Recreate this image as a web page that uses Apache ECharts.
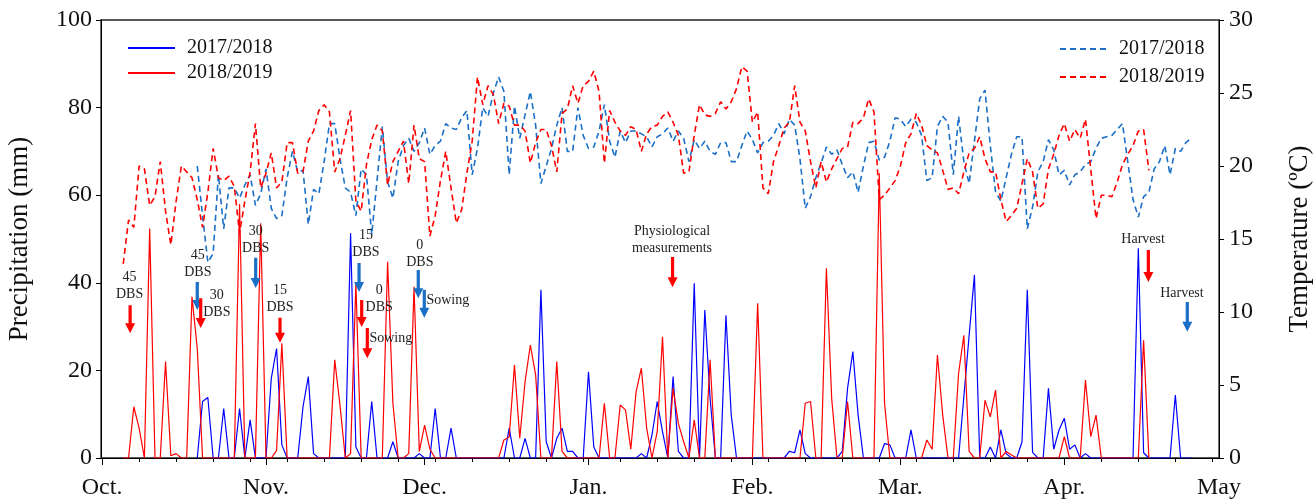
<!DOCTYPE html>
<html>
<head>
<meta charset="utf-8">
<script src="https://cdn.jsdelivr.net/npm/echarts@6/dist/echarts.min.js"></script>
<style>
html,body{margin:0;padding:0;background:#fff;}
#chart{width:1315px;height:500px;}
</style>
</head>
<body>
<div id="chart"></div>
<script>
// ---- axis categories (days counted from 1 October) ----
const monthStarts = [0, 31, 61, 92, 123, 151, 182, 212];
const monthLabels = ['Oct.', 'Nov.', 'Dec.', 'Jan.', 'Feb.', 'Mar.', 'Apr.', 'May'];
const seasonNames = ['2017/2018', '2018/2019'];

// ---- daily precipitation (mm) ----
const precip1718Start = 18;
const precip1718 = [
  0, 12.9, 13.8, 0, 0, 11.3, 0, 0, 11.3, 0,
  8.7, 0, 0, 0, 18.2, 25, 3, 0, 0, 0,
  11.7, 18.6, 1, 0, 0, 0, 0, 0, 0, 51.3,
  2.5, 0, 0, 12.9, 0, 0, 0, 3.7, 0, 0,
  0, 0, 1, 0, 0, 11.3, 0, 0, 6.8, 0,
  0, 0, 0, 0, 0, 0, 0, 0, 0, 6.8,
  0, 0, 4.5, 0, 0, 38.4, 3.7, 0, 4.5, 6.8,
  1.5, 1.5, 0, 0, 19.7, 2.5, 0, 0, 0, 0,
  0, 0, 0, 0, 1, 0, 5.2, 12.9, 6, 0,
  18.6, 1.5, 0, 0, 39.9, 0, 33.8, 13.6, 0, 0,
  32.6, 9.8, 0, 0, 0, 0, 0, 0, 0, 0,
  0, 0, 1.5, 1.2, 6.4, 1, 0, 0, 0, 0,
  0, 0, 1.5, 15.9, 24.3, 9.8, 0, 0, 0, 0,
  3.3, 3, 0, 0, 0, 6.4, 0, 0, 0, 0,
  0, 0, 0, 0, 0, 14, 28, 41.8, 0, 0,
  2.5, 0, 6.4, 1, 0, 0, 3.7, 38.4, 1.3, 0,
  0, 15.9, 2, 6.4, 9.1, 2, 3, 0, 1, 0,
  0, 0, 0, 0, 0, 0, 0, 0, 47.9, 1.2,
  0, 0, 0, 0, 0, 14.4, 0, 0, 0
];
const precip1819Start = 4;
const precip1819 = [
  0, 0, 11.7, 6.8, 0, 52.4, 0, 0, 22, 0.5,
  1, 0, 0, 36.8, 25, 0, 0, 0, 0, 0,
  0, 0, 58, 0, 0, 0, 53.6, 0, 0, 1.7,
  26.2, 0, 0, 0, 0, 0, 0, 0, 0, 0,
  22.4, 12, 0, 1, 39.9, 0, 0, 0, 0, 0,
  44.8, 12.5, 0, 0, 1, 39.1, 1.5, 7.5, 2, 0,
  0, 0, 0, 0, 0, 0, 0, 0, 0, 0,
  0, 0, 4.1, 4.8, 21.2, 4.5, 17.4, 25.8, 19, 0,
  0, 0, 22, 1.5, 0, 0, 0, 0, 0, 0,
  0, 12.5, 0, 0, 12.1, 11, 2, 15.1, 20.5, 6.8,
  0, 6, 27.7, 0, 15.9, 7.9, 3.7, 0, 8.7, 0,
  0, 22.4, 0, 0, 0, 0, 0, 0, 0, 0,
  35.3, 0, 0, 0, 0, 0, 0, 0, 0, 12.5,
  12.9, 0, 0, 43.3, 13.6, 0, 0, 12.9, 0, 0,
  0, 0, 0, 65, 12.5, 0, 0, 0, 0, 0,
  0, 0, 4.1, 2, 23.5, 9.8, 0, 0, 19.3, 28,
  1.5, 0, 0, 13.2, 9.4, 15.5, 0, 1.5, 0.7, 0,
  0, 0, 0, 0, 0, 0, 0, 0, 4.9, 0,
  0, 0, 17.8, 4.9, 9.8, 0, 0, 0, 0, 0,
  0, 0, 0, 26.9, 0
];

// ---- daily mean temperature (ºC) ----
const temp1718Start = 18;
const temp1718 = [
  20.0, 16.6, 13.4, 14.0, 19.4, 15.7, 18.5, 18.5, 17.8, 18.7,
  19.4, 17.3, 18.1, 19.8, 17.1, 16.4, 16.6, 19.2, 21.0, 19.6,
  19.7, 16.0, 18.4, 18.1, 20.3, 22.9, 22.9, 20.5, 18.5, 18.2,
  16.6, 19.8, 19.4, 15.3, 19.0, 22.7, 18.9, 17.8, 20.3, 21.4,
  21.9, 21.0, 21.6, 22.6, 20.8, 21.4, 21.7, 22.9, 22.6, 22.5,
  23.3, 23.8, 19.4, 21.2, 24.0, 23.4, 25.0, 26.1, 25.1, 19.4,
  24.1, 21.9, 23.5, 25.1, 22.8, 18.8, 20.0, 21.2, 22.8, 24.0,
  21.0, 21.0, 24.0, 22.1, 21.2, 21.3, 22.4, 24.2, 21.7, 20.6,
  22.4, 21.6, 22.4, 22.4, 22.2, 22.0, 21.3, 22.0, 22.2, 22.6,
  21.7, 22.4, 21.9, 20.3, 21.8, 21.2, 21.7, 21.0, 20.8, 21.6,
  21.6, 20.3, 20.3, 21.4, 22.4, 21.8, 20.9, 21.6, 21.7, 22.1,
  22.9, 22.2, 23.2, 22.8, 20.5, 17.1, 17.9, 19.2, 20.2, 21.3,
  20.8, 21.1, 20.1, 19.2, 19.6, 18.2, 20.0, 21.6, 21.7, 20.4,
  20.6, 21.7, 23.3, 23.2, 22.7, 23.2, 23.0, 22.1, 19.0, 19.2,
  22.7, 23.4, 23.0, 19.4, 23.4, 20.3, 18.8, 21.7, 24.6, 25.2,
  21.4, 18.2, 17.6, 19.2, 20.8, 22.0, 22.0, 15.7, 17.2, 19.6,
  20.3, 21.8, 21.1, 19.4, 19.7, 18.7, 19.4, 19.6, 20.1, 20.3,
  21.2, 21.9, 22.0, 22.1, 22.5, 22.9, 20.3, 17.7, 16.5, 17.9,
  18.2, 19.8, 20.3, 21.4, 19.4, 21.2, 21.0, 21.6, 21.9
];
const temp1819Start = 4;
const temp1819 = [
  13.3, 16.3, 15.8, 20.0, 19.8, 17.3, 17.9, 20.3, 16.9, 14.6,
  17.6, 20.0, 19.6, 19.2, 17.7, 15.8, 18.2, 21.2, 19.2, 19.0,
  19.3, 18.6, 15.4, 17.6, 19.6, 22.9, 18.5, 19.5, 20.9, 18.5,
  18.9, 21.6, 21.6, 19.5, 19.6, 21.7, 22.4, 23.8, 24.2, 23.7,
  19.6, 20.5, 22.1, 23.8, 17.6, 16.9, 20.1, 21.8, 22.8, 22.4,
  18.7, 20.3, 21.0, 21.7, 18.8, 22.8, 20.5, 20.3, 15.2, 16.6,
  19.0, 21.0, 18.5, 16.1, 17.0, 19.5, 21.7, 26.1, 24.2, 25.5,
  24.9, 22.9, 24.3, 24.1, 22.8, 22.8, 22.4, 20.2, 21.6, 22.5,
  22.5, 21.4, 19.6, 23.6, 23.9, 25.5, 24.3, 25.5, 25.8, 26.5,
  25.1, 20.2, 23.8, 23.0, 22.4, 22.1, 22.7, 22.5, 21.0, 22.2,
  22.7, 22.8, 23.4, 23.7, 23.0, 22.1, 19.5, 19.6, 22.1, 24.2,
  23.5, 23.4, 23.6, 24.4, 23.9, 24.4, 25.3, 26.8, 26.5, 23.0,
  23.7, 18.5, 18.1, 20.3, 21.4, 22.6, 23.0, 25.5, 23.0, 22.4,
  20.3, 18.5, 20.3, 18.9, 19.8, 20.5, 21.2, 21.3, 23.0, 22.9,
  23.3, 24.6, 23.7, 17.7, 18.0, 18.5, 19.0, 20.0, 21.6, 22.2,
  23.6, 22.8, 21.4, 21.1, 20.9, 19.7, 18.4, 18.5, 18.1, 19.6,
  20.9, 21.2, 22.0, 20.5, 19.6, 19.6, 17.7, 16.2, 16.6, 17.1,
  18.8, 20.5, 19.6, 17.1, 17.4, 19.8, 20.8, 22.1, 22.9, 21.7,
  22.5, 21.9, 23.2, 19.8, 16.4, 18.0, 18.0, 17.9, 18.9, 20.1,
  20.8, 21.4, 22.4, 22.5, 19.7
];

// ---- annotations: text (day, mm) and arrows (day, mm from -> mm to) ----
const annotationTexts = [
  ['45\nDBS', 5.2, 39.2], ['45\nDBS', 18.1, 44.4], ['30\nDBS', 21.7, 35.3],
  ['30\nDBS', 29.05, 49.7], ['15\nDBS', 33.65, 36.4], ['15\nDBS', 49.9, 49.0],
  ['0\nDBS', 52.4, 36.3], ['Sowing', 54.6, 27.4], ['0\nDBS', 60.1, 46.7],
  ['Sowing', 65.4, 36.1], ['Physiological\nmeasurements', 107.8, 49.8],
  ['Harvest', 196.9, 50.0], ['Harvest', 204.25, 37.7]
];
const annotationArrows = [
  ['r', 5.3, 34.9, 28.5], ['b', 18.0, 40.2, 33.8], ['r', 18.65, 36.5, 29.7],
  ['b', 29.05, 45.7, 38.8], ['r', 33.65, 32.0, 26.3], ['b', 48.6, 44.5, 37.9],
  ['r', 49.1, 36.1, 29.9], ['r', 50.16, 29.7, 22.8], ['b', 59.8, 42.9, 36.5],
  ['b', 60.94, 38.4, 32.0], ['r', 107.9, 45.9, 39.0], ['r', 197.9, 47.5, 40.2],
  ['b', 205.26, 35.6, 28.8]
];

const FONT = '"Liberation Serif", "Times New Roman", serif';
const BLUE = '#0000ff', RED = '#ff0000', DBLUE = '#1a6fc6';
const X_MIN = -0.21, X_MAX = 211.26;   // visible range (days); the frame closes just before 1 May
const toPairs = (start, arr) => arr.map((v, i) => [start + i, v]);
const labelValues = monthStarts.map(v => Math.min(v, X_MAX));
const weekTicks = [];
for (let d = 7; d < X_MAX; d += 7) weekTicks.push(d);

const chart = echarts.init(document.getElementById('chart'), null, {renderer: 'canvas'});
const legendBase = {
  orient: 'vertical', itemWidth: 47, itemHeight: 20, padding: 0,
  itemStyle: {opacity: 0},
  formatter: n => n.slice(1),
  textStyle: {fontFamily: FONT, fontSize: 20, color: '#111', padding: [0, 0, 0, 7]}
};
const option = {
  backgroundColor: '#fff',
  animation: false,
  textStyle: {fontFamily: FONT},
  grid: {
    left: 101, right: 96, top: 20, bottom: 42, containLabel: false, outerBoundsMode: 'none',
    show: true, borderColor: '#222', borderWidth: 1.3, backgroundColor: 'transparent'
  },
  legend: [
    Object.assign({}, legendBase, {left: 127, top: 38, itemGap: 5, data: ['P' + seasonNames[0], 'P' + seasonNames[1]]}),
    Object.assign({}, legendBase, {left: 1059, top: 39, itemGap: 8, data: ['T' + seasonNames[0], 'T' + seasonNames[1]]})
  ],
  xAxis: [
    {
      type: 'value', min: X_MIN, max: X_MAX, position: 'bottom',
      axisLine: {onZero: false, lineStyle: {color: '#000', width: 1}},
      axisTick: {customValues: monthStarts.filter(v => v <= X_MAX), length: 7, inside: false, lineStyle: {color: '#000'}},
      axisLabel: {
        customValues: labelValues, fontSize: 24, color: '#111', fontFamily: FONT, margin: 18,
        formatter: v => {
          let best = 0;
          labelValues.forEach((lv, i) => { if (Math.abs(lv - v) < Math.abs(labelValues[best] - v)) best = i; });
          return monthLabels[best];
        }
      },
      splitLine: {show: false}
    },
    {
      type: 'value', min: X_MIN, max: X_MAX, position: 'bottom', gridIndex: 0,
      axisLine: {show: false, onZero: false},
      axisTick: {customValues: weekTicks, length: 4, inside: false, lineStyle: {color: '#000'}},
      axisLabel: {show: false},
      splitLine: {show: false}
    }
  ],
  yAxis: [
    {
      type: 'value', min: 0, max: 100, interval: 20, position: 'left',
      name: 'Precipitation (mm)', nameLocation: 'middle', nameGap: 68, nameRotate: 90,
      nameTextStyle: {fontFamily: FONT, fontSize: 27, color: '#111'},
      axisLine: {show: true, onZero: false, lineStyle: {color: '#000'}},
      axisTick: {show: true, length: 5, lineStyle: {color: '#000'}},
      axisLabel: {fontSize: 24, color: '#111', fontFamily: FONT, margin: 9},
      splitLine: {show: false}
    },
    {
      type: 'value', min: 0, max: 30, interval: 5, position: 'right',
      name: 'Temperature (ºC)', nameLocation: 'middle', nameGap: 67, nameRotate: 90,
      nameTextStyle: {fontFamily: FONT, fontSize: 27, color: '#111'},
      axisLine: {show: true, onZero: false, lineStyle: {color: '#000'}},
      axisTick: {show: true, length: 5, lineStyle: {color: '#000'}},
      axisLabel: {fontSize: 24, color: '#111', fontFamily: FONT, margin: 10},
      splitLine: {show: false}
    }
  ],
  series: [
    {
      name: 'T' + seasonNames[0], type: 'line', yAxisIndex: 1, symbol: 'none',
      data: toPairs(temp1718Start, temp1718),
      lineStyle: {color: DBLUE, width: 1.6, type: [6, 4]}, itemStyle: {color: DBLUE}
    },
    {
      name: 'T' + seasonNames[1], type: 'line', yAxisIndex: 1, symbol: 'none',
      data: toPairs(temp1819Start, temp1819),
      lineStyle: {color: RED, width: 1.6, type: [6, 4]}, itemStyle: {color: RED}
    },
    {
      name: 'P' + seasonNames[0], type: 'line', yAxisIndex: 0, symbol: 'none',
      data: toPairs(precip1718Start, precip1718),
      lineStyle: {color: BLUE, width: 1.2}, itemStyle: {color: BLUE}
    },
    {
      name: 'P' + seasonNames[1], type: 'line', yAxisIndex: 0, symbol: 'none',
      data: toPairs(precip1819Start, precip1819),
      lineStyle: {color: RED, width: 1.2}, itemStyle: {color: RED}
    }
  ]
};
chart.setOption(option);

// annotations placed through the chart's own coordinate system
const px = (d, v) => chart.convertToPixel({xAxisIndex: 0, yAxisIndex: 0}, [d, v]);
const graphics = [];
annotationTexts.forEach(([t, d, v]) => {
  const p = px(d, v);
  graphics.push({
    type: 'text', z: 100, x: p[0], y: p[1],
    style: {text: t, align: 'center', verticalAlign: 'middle', font: '14px ' + FONT, fill: '#222', lineHeight: 17}
  });
});
annotationArrows.forEach(([c, d, v1, v2]) => {
  const a = px(d, v1), b = px(d, v2);
  const x = a[0], y1 = a[1], y2 = b[1], h = 10, sw = 1.6, hw = 5;
  graphics.push({
    type: 'polygon', z: 100,
    shape: {points: [[x - sw, y1], [x + sw, y1], [x + sw, y2 - h], [x + hw, y2 - h], [x, y2], [x - hw, y2 - h], [x - sw, y2 - h]]},
    style: {fill: c === 'r' ? RED : DBLUE}
  });
});
chart.setOption({graphic: graphics});
</script>
</body>
</html>
